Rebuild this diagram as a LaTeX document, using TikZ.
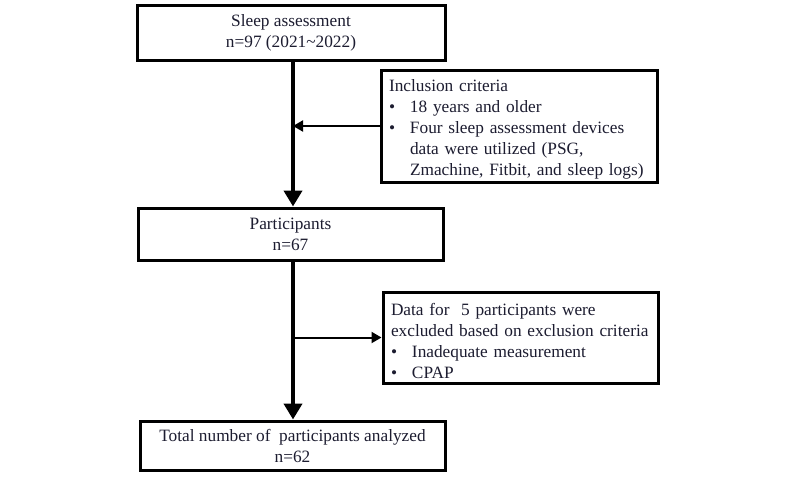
\documentclass[tikz,border=0pt]{standalone}
\usepackage{fontspec}
\setmainfont{Liberation Serif}
\usetikzlibrary{arrows.meta}
\definecolor{txt}{RGB}{28,28,48}
\begin{document}
\begin{tikzpicture}[x=1pt,y=-1pt,
  box/.style={draw=black,line width=3pt,fill=white,inner sep=0pt,text=txt,
    font=\fontsize{17.3}{21}\selectfont,align=center},
  listbox/.style={box,align=left,inner xsep=8pt},
  spineline/.style={line width=4pt,-{Triangle[length=16pt,width=18pt]}},
  sidearrow/.style={line width=2pt,-{Triangle[length=10pt,width=11pt]}}
]
\useasboundingbox (0,0) rectangle (800,477);
\newcommand{\bul}{\makebox[21pt][l]{\textbullet}}
\newcommand{\ind}{\hspace*{21pt}}
\node[box,minimum width=308pt,minimum height=55pt] (b1) at (291,32.5)
  {Sleep assessment\\n=97 (2021\textasciitilde 2022)};
\node[box,minimum width=305pt,minimum height=52pt] (b2) at (290.5,234)
  {Participants\\n=67};
\node[box,minimum width=305pt,minimum height=49pt] (b3) at (292.5,445.5)
  {Total number of~ participants analyzed\\n=62};
\node[listbox,minimum width=276pt,minimum height=112pt,text width=260pt] (inc) at (519,126)
  {\rule{0pt}{19pt}Inclusion criteria\\
   \bul 18 years and older\\
   \bul Four sleep assessment devices\\
   \ind data were utilized (PSG,\\
   \ind Zmachine, Fitbit, and sleep logs)};
\node[listbox,minimum width=275pt,minimum height=91pt,text width=259pt] (exc) at (520.5,337.5)
  {\rule{0pt}{19pt}Data for~ 5 participants were\\
   excluded based on exclusion criteria\\
   \bul Inadequate measurement\\
   \bul CPAP};
\coordinate (spine) at (293,0);
\draw[spineline] (b1.south -| spine) -- (b2.north -| spine);
\draw[spineline] (b2.south -| spine) -- (b3.north -| spine);
\draw[sidearrow] (inc.west) -- (inc.west -| spine);
\draw[sidearrow] (exc.west -| spine) -- (exc.west);
\end{tikzpicture}
\end{document}
